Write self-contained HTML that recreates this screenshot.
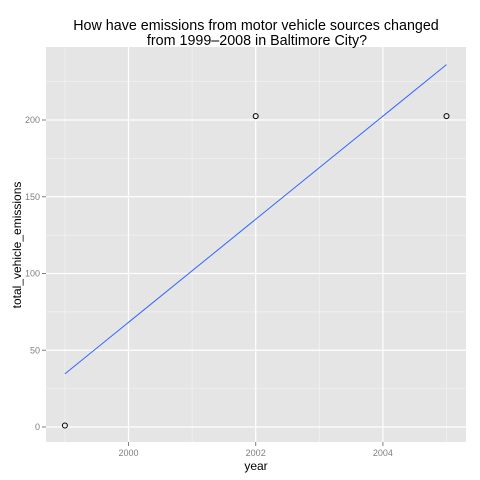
<!DOCTYPE html>
<html><head><meta charset="utf-8"><style>body{margin:0;background:#fff}svg{display:block;font-family:"Liberation Sans",Arial,sans-serif}</style></head>
<body>
<svg id="chart" width="480" height="480" xmlns="http://www.w3.org/2000/svg"></svg>
<script>
const years = [1999, 2002, 2005];
const emissions = [1, 202.5, 202.5];
const xTicks = [2000, 2002, 2004];
const xMinor = [1999, 2001, 2003, 2005];
const yTicks = [0, 50, 100, 150, 200];
const yMinor = [25, 75, 125, 175, 225];

const P = {l: 46, r: 466, t: 47, b: 442};
const xs = v => 128.5 + (v - 2000) * 63.6;
const ys = v => 427 - v * 1.535;
const svg = document.getElementById('chart');
const NS = 'http://www.w3.org/2000/svg';
function mk(tag, attrs, parent) {
  const e = document.createElementNS(NS, tag);
  for (const k in attrs) e.setAttribute(k, attrs[k]);
  (parent || svg).appendChild(e);
  return e;
}
const panel = mk('rect', {x: P.l, y: P.t, width: P.r - P.l, height: P.b - P.t, fill: '#e5e5e5'});


xMinor.forEach(v => { const l = mk('line', {x1: xs(v), x2: xs(v), y1: P.t, y2: P.b, stroke: '#f2f2f2', 'stroke-width': 0.7});
    });
yMinor.forEach(v => { const l = mk('line', {x1: P.l, x2: P.r, y1: ys(v), y2: ys(v), stroke: '#f2f2f2', 'stroke-width': 0.7});
    });
xTicks.forEach(v => {
  const l = mk('line', {x1: xs(v), x2: xs(v), y1: P.t, y2: P.b, stroke: '#fff', 'stroke-width': 1.2});
   
  const t = mk('line', {x1: xs(v), x2: xs(v), y1: P.b, y2: P.b + 4, stroke: '#7f7f7f'});
   
  const tx = mk('text', {x: xs(v), y: P.b + 14, 'font-size': 9, fill: '#7f7f7f', 'text-anchor': 'middle'});
  tx.textContent = v;
   
});
yTicks.forEach(v => {
  const l = mk('line', {x1: P.l, x2: P.r, y1: ys(v), y2: ys(v), stroke: '#fff', 'stroke-width': 1.2});
   
  const t = mk('line', {x1: P.l - 4, x2: P.l, y1: ys(v), y2: ys(v), stroke: '#7f7f7f'});
   
  const tx = mk('text', {x: P.l - 6, y: ys(v) + 3, 'font-size': 9, fill: '#7f7f7f', 'text-anchor': 'end'});
  tx.textContent = v;
   
});
// linear fit
const n = years.length, mx = years.reduce((a, b) => a + b) / n, my = emissions.reduce((a, b) => a + b) / n;
let sxy = 0, sxx = 0;
years.forEach((x, i) => { sxy += (x - mx) * (emissions[i] - my); sxx += (x - mx) ** 2; });
const slope = sxy / sxx, fit = x => my + slope * (x - mx);
const x0 = years[0], x1 = years[n - 1];
const fl = mk('line', {x1: xs(x0), y1: ys(fit(x0)), x2: xs(x1), y2: ys(fit(x1)), stroke: '#3366ff', 'stroke-width': 1});
 
years.forEach((x, i) => {
  const c = mk('circle', {cx: xs(x), cy: ys(emissions[i]), r: 2.5, fill: 'none', stroke: '#000', 'stroke-width': 1});
   
});
const t1 = mk('text', {x: 256, y: 30, 'font-size': 14.3, 'text-anchor': 'middle', fill: '#000'});
t1.textContent = 'How have emissions from motor vehicle sources changed';
 
const t2 = mk('text', {x: 257, y: 45, 'font-size': 14.3, 'text-anchor': 'middle', fill: '#000'});
t2.textContent = 'from 1999\u20132008 in Baltimore City?';
 
const xt = mk('text', {x: 256, y: 470, 'font-size': 12, 'text-anchor': 'middle', fill: '#000'});
xt.textContent = 'year';
 
const yt = mk('text', {x: 0, y: 0, 'font-size': 12, 'text-anchor': 'middle', fill: '#000', transform: 'translate(21,245) rotate(-90)'});
yt.textContent = 'total_vehicle_emissions';
 
</script>
</body></html>
